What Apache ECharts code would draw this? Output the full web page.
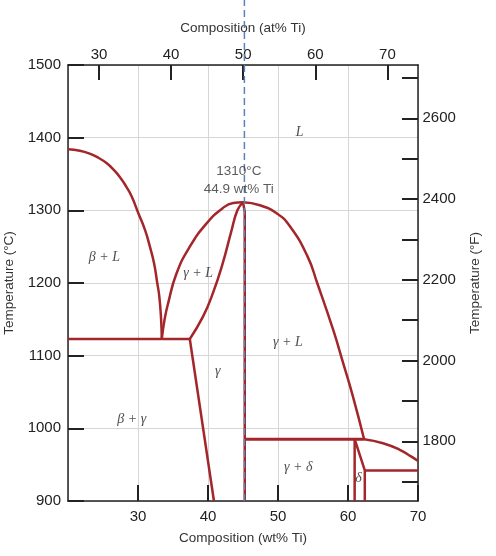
<!DOCTYPE html>
<html><head><meta charset="utf-8">
<script src="https://cdn.jsdelivr.net/npm/echarts@6/dist/echarts.min.js"></script>
<style>html,body{margin:0;padding:0;background:#fff}#c{width:496px;height:556px}</style>
</head><body><div id="c"></div>
<script>
// ---- data (composition in wt% Ti, temperature in °C) ----
const betaLiquidus = [[20,1384],[21.7,1382],[23.1,1378],[24.4,1372],[25.5,1365],[26.5,1356],[27.4,1346],[28.3,1333],[29.1,1319],[30.05,1296],[31.0,1273],[31.7,1250],[32.3,1227],[32.75,1200],[33.05,1181],[33.3,1150],[33.4,1123]];
const gammaLiquidusLeft = [[33.4,1123],[33.8,1150],[34.3,1172],[35.5,1213],[37.4,1250],[39.8,1282],[42.1,1303],[43.6,1310],[45.0,1311]];
const gammaSolidusLeft = [[37.4,1123],[39.3,1154],[40.7,1186],[42.1,1227],[43.3,1270],[44.2,1300],[45.0,1311]];
const gammaLiquidusRight = [[45.0,1311],[47.4,1307],[49.8,1296],[51.7,1278],[54.2,1237],[55.6,1200],[57.9,1135],[59.3,1090],[60.7,1044],[62.3,985]];
const gammaRightBoundary = [[45.0,1311],[45.25,1298],[45.25,900]];
const eutecticLine = [[20,1123],[37.4,1123]];
const gammaLeftLow = [[37.4,1123],[40.85,900]];
const peritecticLine = [[45.25,985],[62.3,985]];
const deltaLeft = [[60.95,985],[60.95,900]];
const deltaRight = [[60.95,985],[62.4,942],[62.4,900]];
const eutectoidRight = [[62.4,942],[70,942]];
const liquidusFar = [[62.3,985],[65.0,979.5],[67.4,970.5],[69.06,961],[70,955]];
const compositionMarker = [[45.2,900],[45.2,1590]];
const regionLabels = [
  {name:'L', value:[53.1,1408]},
  {name:'β + L', value:[25.2,1236]},
  {name:'γ + L', value:[38.6,1213]},
  {name:'γ', value:[41.4,1078]},
  {name:'γ + L', value:[51.4,1119]},
  {name:'β + γ', value:[29.1,1012]},
  {name:'γ + δ', value:[52.9,947]},
  {name:'δ', value:[61.5,931]}
];
const peakNote = [{name:'1310°C\n44.9 wt% Ti', value:[44.4,1341]}];
const wtRange = [20,70];
const atRange = [25.7,74.24];
const cRange = [900,1500];
const fRange = [1652,2732];

const RED = '#a3262a';
const AX = '#222';
const SANS = 'Liberation Sans, Arial, sans-serif';
const txt = {fontFamily:SANS, fontSize:13.5, color:'#333'};

function isMult(v, m){ return Math.abs(v - Math.round(v/m)*m) < 1e-6; }

function boundary(data, smooth, width){
  return {type:'line', data:data, xAxisIndex:0, yAxisIndex:0, showSymbol:false, symbol:'none',
    smooth: smooth ? 0.5 : false,
    lineStyle:{color:RED, width: width || 2.5}, z:3, silent:true};
}

const chart = echarts.init(document.getElementById('c'), null, {renderer:'canvas'});
chart.setOption({
  animation:false,
  backgroundColor:'#fff',
  grid:{left:68, right:78, top:65, bottom:55, containLabel:false, outerBoundsMode:'none'},
  xAxis:[
    {type:'value', position:'bottom', min:wtRange[0], max:wtRange[1], interval:10,
     axisLine:{show:true, lineStyle:{color:AX, width:1.5}},
     axisTick:{show:true, inside:true, length:16, lineStyle:{color:AX, width:2}},
     axisLabel:{margin:8.5, fontSize:15, color:AX, fontFamily:SANS, showMinLabel:false, formatter:v => String(v)},
     splitLine:{show:true, lineStyle:{color:'#d6d6d6', width:1}},
     name:'Composition (wt% Ti)', nameLocation:'middle', nameGap:30, nameTextStyle:txt},
    {type:'value', position:'top', min:atRange[0], max:atRange[1], minInterval:10, maxInterval:10, splitNumber:5,
     axisLine:{show:true, lineStyle:{color:AX, width:1.5}},
     axisTick:{show:true, inside:true, length:15, lineStyle:{color:AX, width:2}},
     axisLabel:{margin:3, fontSize:15, color:AX, fontFamily:SANS, showMinLabel:false, showMaxLabel:false,
       formatter:v => isMult(v,10) ? String(Math.round(v)) : ''},
     splitLine:{show:false},
     name:'Composition (at% Ti)', nameLocation:'middle', nameGap:30, nameTextStyle:txt}
  ],
  yAxis:[
    {type:'value', position:'left', min:cRange[0], max:cRange[1], interval:100,
     axisLine:{show:true, lineStyle:{color:AX, width:1.5}},
     axisTick:{show:true, inside:true, length:16, lineStyle:{color:AX, width:2}},
     axisLabel:{margin:7, fontSize:15, color:AX, fontFamily:SANS, formatter:v => String(v)},
     splitLine:{show:true, lineStyle:{color:'#d6d6d6', width:1}},
     name:'Temperature (°C)', nameLocation:'middle', nameGap:52, nameTextStyle:txt},
    {type:'value', position:'right', min:fRange[0], max:fRange[1], minInterval:100, maxInterval:100, splitNumber:10,
     axisLine:{show:true, lineStyle:{color:AX, width:1.5}},
     axisTick:{show:true, inside:true, length:16, lineStyle:{color:AX, width:2}},
     axisLabel:{margin:4.5, fontSize:15, color:AX, fontFamily:SANS, showMinLabel:false, showMaxLabel:false,
       formatter:v => (isMult(v,200) ? String(Math.round(v)) : '')},
     splitLine:{show:false},
     name:'Temperature (°F)', nameLocation:'middle', nameGap:50, nameTextStyle:txt}
  ],
  series:[
    boundary(betaLiquidus, true),
    boundary(gammaLiquidusLeft, true),
    boundary(gammaSolidusLeft, true),
    boundary(gammaLiquidusRight, true),
    boundary(gammaRightBoundary, false),
    boundary(eutecticLine, false),
    boundary(gammaLeftLow, false),
    boundary(peritecticLine, false, 3),
    boundary(deltaLeft, false),
    boundary(deltaRight, false),
    boundary(eutectoidRight, false),
    boundary(liquidusFar, true),
    {type:'line', data:compositionMarker, xAxisIndex:0, yAxisIndex:0, showSymbol:false, symbol:'none', clip:false,
     lineStyle:{color:'#5a83b8', width:1.5, type:[7,4]}, z:5, silent:true},
    {type:'scatter', data:regionLabels, xAxisIndex:0, yAxisIndex:0, symbolSize:0, z:6, silent:true,
     label:{show:true, position:'inside', formatter:'{b}', fontFamily:'Liberation Serif, Times New Roman, serif',
       fontStyle:'italic', fontSize:14, color:'#222'}},
    {type:'scatter', data:peakNote, xAxisIndex:0, yAxisIndex:0, symbolSize:0, z:6, silent:true,
     label:{show:true, position:'inside', formatter:'{b}', fontFamily:SANS, fontSize:13.5, lineHeight:18, color:'#333'}}
  ]
});
</script>
</body></html>
